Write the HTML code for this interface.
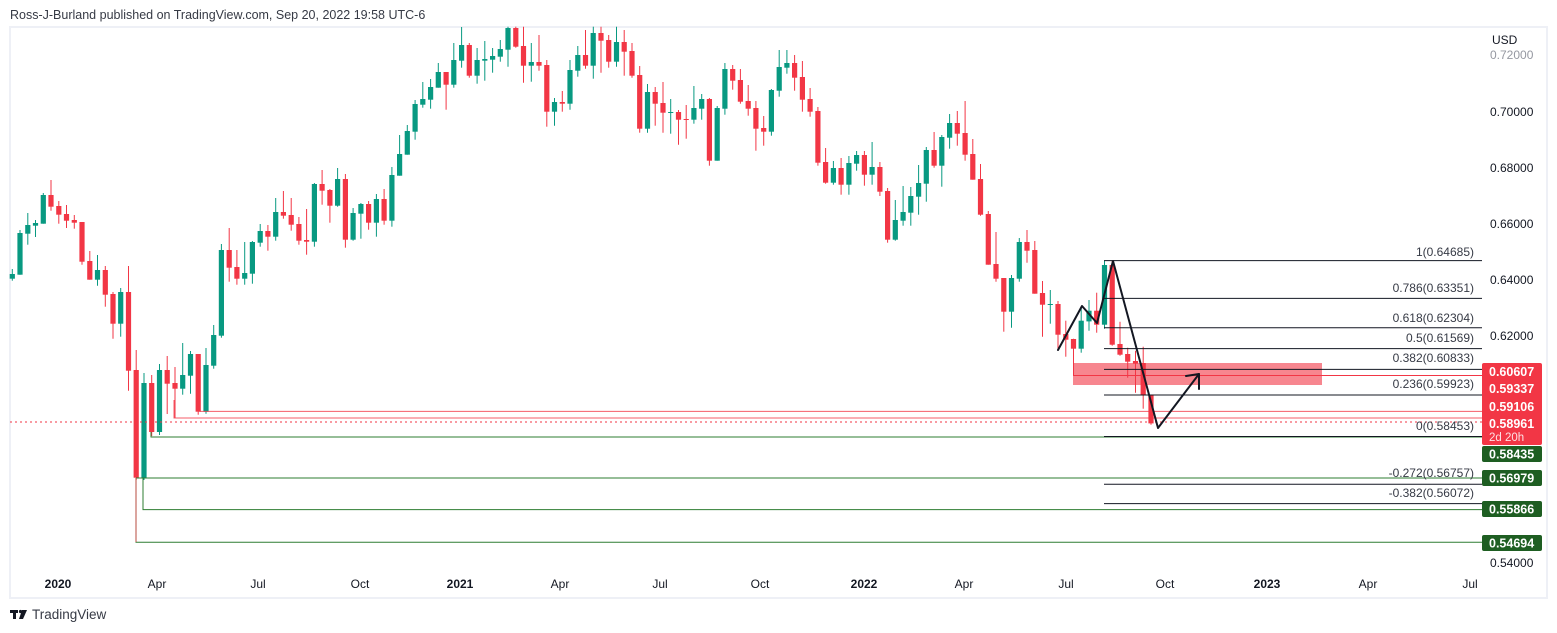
<!DOCTYPE html>
<html><head><meta charset="utf-8">
<style>
html,body{margin:0;padding:0;background:#fff;}
body{width:1557px;height:633px;overflow:hidden;position:relative;font-family:"Liberation Sans","DejaVu Sans",sans-serif;}
svg{position:absolute;left:0;top:0;}
</style></head>
<body>
<svg id="c" width="1557" height="633" viewBox="0 0 1557 633" xmlns="http://www.w3.org/2000/svg" font-family="Liberation Sans, DejaVu Sans, sans-serif">
<text x="10" y="19" font-size="12.5" fill="#363a45">Ross-J-Burland published on TradingView.com, Sep 20, 2022 19:58 UTC-6</text>
<rect x="10" y="27" width="1537" height="571" fill="none" stroke="#eef0f6" stroke-width="2"/>
<g id="cand"></g>
<!-- support/resistance lines -->
<g fill="none" stroke-width="1">
<polyline points="200,404 200,411.4 1482,411.4" stroke="#f23645" stroke-opacity="0.8"/>
<polyline points="174,400 174,418 1482,418" stroke="#f23645" stroke-opacity="0.8"/>
<line x1="10" y1="422" x2="1482" y2="422" stroke="#f23645" stroke-dasharray="2,3"/>
<polyline points="151,432 151,437 1482,437" stroke="#2e7d32"/>
<polyline points="136,478 1482,478" stroke="#2e7d32"/>
<polyline points="143,478 143,509.6 1482,509.6" stroke="#2e7d32"/>
<polyline points="136,478 136,542.3 1482,542.3" stroke="#2e7d32"/>
<line x1="136" y1="478" x2="136" y2="542" stroke="#f23645" stroke-opacity="0.7"/>
</g>
<!-- rectangle -->
<rect x="1073" y="363" width="249" height="22" fill="#f23645" fill-opacity="0.6"/>
<line x1="1073" y1="375.5" x2="1482" y2="375.5" stroke="#f23645" stroke-width="1"/>
<!-- fib -->
<g stroke="#131722" stroke-width="1">
<line x1="1104" y1="260.6" x2="1482" y2="260.6"/>
<line x1="1104" y1="298.4" x2="1482" y2="298.4"/>
<line x1="1104" y1="327.8" x2="1482" y2="327.8"/>
<line x1="1104" y1="348.6" x2="1482" y2="348.6"/>
<line x1="1104" y1="369.4" x2="1482" y2="369.4"/>
<line x1="1104" y1="395" x2="1482" y2="395"/>
<line x1="1104" y1="436.5" x2="1482" y2="436.5"/>
<line x1="1104" y1="484.3" x2="1482" y2="484.3"/>
<line x1="1104" y1="503.6" x2="1482" y2="503.6"/>
</g>
<g font-size="12" fill="#363a45" text-anchor="end">
<text x="1474" y="256">1(0.64685)</text>
<text x="1474" y="292">0.786(0.63351)</text>
<text x="1474" y="322">0.618(0.62304)</text>
<text x="1474" y="342">0.5(0.61569)</text>
<text x="1474" y="362">0.382(0.60833)</text>
<text x="1474" y="388">0.236(0.59923)</text>
<text x="1474" y="430">0(0.58453)</text>
<text x="1474" y="477">-0.272(0.56757)</text>
<text x="1474" y="497">-0.382(0.56072)</text>
</g>
<!-- zigzag -->
<g stroke="#131722" stroke-width="2" fill="none" stroke-linejoin="round" stroke-linecap="round">
<polyline points="1058,350 1082,306 1097,323 1113,261 1158,428 1199,374"/>
<polyline points="1186,376 1199,374 1199,389"/>
</g>
<!-- price axis -->
<g font-size="12" fill="#131722">
<text x="1492" y="44">USD</text>
<text x="1490" y="59" fill="#9598a1">0.72000</text>
<text x="1490" y="116">0.70000</text>
<text x="1490" y="172">0.68000</text>
<text x="1490" y="228">0.66000</text>
<text x="1490" y="284">0.64000</text>
<text x="1490" y="340">0.62000</text>
<text x="1490" y="567">0.54000</text>
</g>
<g font-size="12.5" font-weight="bold" fill="#fff">
<rect x="1482" y="363" width="60" height="82" rx="2" fill="#f23645"/>
<text x="1489" y="376">0.60607</text>
<text x="1489" y="393">0.59337</text>
<text x="1489" y="411">0.59106</text>
<text x="1489" y="428">0.58961</text>
<text x="1489" y="441" font-weight="normal" font-size="11.5" fill="#fde0e3">2d 20h</text>
<rect x="1482" y="446" width="60" height="16" rx="2" fill="#1e5e22"/>
<text x="1489" y="458.5">0.58435</text>
<rect x="1482" y="470" width="60" height="16" rx="2" fill="#1e5e22"/>
<text x="1489" y="482.5">0.56979</text>
<rect x="1482" y="501" width="60" height="16" rx="2" fill="#1e5e22"/>
<text x="1489" y="513.5">0.55866</text>
<rect x="1482" y="535" width="60" height="16" rx="2" fill="#1e5e22"/>
<text x="1489" y="547.5">0.54694</text>
</g>
<!-- time axis -->
<g font-size="12" fill="#131722" text-anchor="middle">
<text x="58" y="588" font-weight="bold">2020</text>
<text x="157" y="588">Apr</text>
<text x="258" y="588">Jul</text>
<text x="360" y="588">Oct</text>
<text x="460" y="588" font-weight="bold">2021</text>
<text x="560" y="588">Apr</text>
<text x="660" y="588">Jul</text>
<text x="760" y="588">Oct</text>
<text x="864" y="588" font-weight="bold">2022</text>
<text x="964" y="588">Apr</text>
<text x="1066" y="588">Jul</text>
<text x="1165" y="588">Oct</text>
<text x="1267" y="588" font-weight="bold">2023</text>
<text x="1368" y="588">Apr</text>
<text x="1470" y="588">Jul</text>
</g>
<!-- logo -->
<g fill="#131722">
<rect x="10" y="610" width="8" height="3"/>
<rect x="13" y="610" width="3" height="9"/>
<circle cx="20.5" cy="611.5" r="1.6"/>
<polygon points="22,610 27,610 23,619 19,619"/>
<text x="32" y="619" font-size="13.5" fill="#363a45">TradingView</text>
</g>
</svg>
<script>
var A=[
[762,776,747,782,'g'],[639,764,630,764,'g'],[615,641,579,674,'g'],[609,617,600,651,'g'],[525,611,519,611,'g'],
[525,560,480,572,'r'],[558,584,543,611,'r'],[582,602,555,624,'r'],[600,608,585,626,'r'],[606,725,606,734,'r'],
[723,779,693,779,'r'],[750,779,705,797,'g'],[750,824,738,860,'r'],[822,911,816,956,'r'],[816,911,804,950,'g'],
[816,1052,738,1112,'r'],[1050,1373,990,1380,'r'],[1089,1373,1059,1380,'g'],[1089,1236,1065,1248,'r'],[1050,1236,1032,1245,'g'],
[1050,1091,1008,1182,'r'],[1089,1106,1041,1194,'r'],[1065,1106,969,1124,'g'],[1002,1067,993,1121,'g'],[1002,1175,1002,1184,'r'],
[1035,1175,984,1181,'g'],[945,1037,915,1046,'g'],[690,947,672,953,'g'],[690,743,624,785,'r'],[741,776,690,794,'r'],
[759,776,666,794,'g'],[666,761,663,791,'g'],[633,668,612,680,'g'],[633,650,615,692,'r'],[576,650,534,662,'g'],
[576,587,513,596,'r'],[585,614,534,632,'r'],[612,662,591,674,'r'],[660,665,567,704,'r'],[492,665,489,680,'g'],
[492,512,450,554,'r'],[510,557,507,608,'r'],[477,557,444,560,'g'],[477,659,462,683,'r'],[579,659,564,662,'g'],
[552,581,549,656,'g'],[552,608,543,629,'r'],[537,608,522,650,'g'],[537,602,507,614,'r'],[465,602,441,620,'g'],
[402,467,345,467,'g'],[333,404,315,404,'g'],[252,335,240,359,'g'],[237,254,186,263,'g'],[201,239,177,266,'g'],
[156,203,129,203,'g'],[156,194,156,269,'r'],[120,194,69,203,'g'],[75,122,21,143,'g'],[75,167,69,173,'r'],
[120,167,84,191,'g'],[117,122,63,182,'g'],[108,119,84,158,'g'],[87,110,60,125,'g'],[24,89,20,140,'g'],
[24,80,20,83,'r'],[78,137,20,188,'r'],[126,137,69,185,'g'],[126,137,45,152,'r'],[135,275,120,320,'r'],
[246,275,234,317,'g'],[246,251,213,275,'r'],[150,251,120,269,'g'],[105,152,78,170,'g'],[105,137,30,146,'r'],
[39,137,20,176,'g'],[39,62,20,158,'r'],[60,125,45,143,'r'],[66,125,20,140,'g'],[66,95,30,167,'r'],
[93,167,69,173,'r'],[165,326,138,338,'r'],[216,326,192,338,'g'],[216,251,201,317,'r'],[249,278,186,338,'r'],
[276,278,237,341,'g'],[276,299,270,374,'r'],[297,299,255,356,'r'],[264,299,198,311,'g'],[237,266,222,299,'g'],
[237,422,234,437,'r'],[264,422,258,422,'g'],[147,266,129,284,'g'],[147,182,135,209,'r'],[180,245,147,251,'r'],
[243,266,195,287,'r'],[264,326,243,392,'r'],[324,335,288,377,'r'],[210,335,207,347,'g'],[141,212,90,230,'g'],
[129,143,90,161,'g'],[129,173,105,212,'r'],[171,239,123,275,'r'],[237,275,204,290,'r'],[273,428,261,437,'r'],
[426,488,384,491,'r'],[444,488,423,494,'g'],[444,494,414,524,'r'],[429,494,408,524,'g'],[405,431,393,452,'g'],
[405,464,393,497,'r'],[441,464,366,494,'g']];
var C=[
[231,305,216,318,'r'],[303,449,294,458,'r'],[390,449,330,452,'g'],[366,392,288,407,'g'],[318,368,291,407,'g'],
[279,320,225,374,'g'],[180,281,171,335,'g'],[180,227,126,233,'r'],[141,227,135,290,'g'],[99,143,72,176,'g'],
[99,131,63,167,'r'],[129,194,33,212,'r'],[192,269,147,269,'r'],[267,374,222,377,'r'],[372,524,363,524,'r'],
[522,566,426,575,'r'],[564,665,564,725,'r'],[564,665,555,713,'g'],[456,566,444,575,'g'],[456,482,420,518,'r'],
[480,611,453,611,'r'],[609,644,573,740,'r'],[642,644,600,701,'g'],[642,734,633,782,'r'],[732,749,692,800,'r'],
[747,776,746,856,'r'],[692,776,653,788,'g'],[662,694,630,722,'g'],[662,704,608,728,'r'],[525,704,513,716,'g'],
[525,764,513,767,'r'],[762,794,695,797,'r'],[792,815,773,863,'r'],[813,821,782,908,'r'],[819,916,770,956,'r'],
[914,1000,914,1004,'r']];
var s='',col={g:'#089981',r:'#f23645'};
function add(d,i,off){
 var x=12.3+i*7.746, c=col[d[4]];
 var bt=off+d[0]/3, bb=off+d[1]/3, wt=off+d[2]/3, wb=off+d[3]/3;
 if(bb-bt<1){bb=bt+1;}
 s+='<line x1="'+x.toFixed(1)+'" y1="'+wt.toFixed(1)+'" x2="'+x.toFixed(1)+'" y2="'+wb.toFixed(1)+'" stroke="'+c+'" stroke-width="1"/>';
 s+='<rect x="'+(x-2.6).toFixed(1)+'" y="'+bt.toFixed(1)+'" width="5.2" height="'+(bb-bt).toFixed(1)+'" fill="'+c+'"/>';
}
for(var i=0;i<A.length;i++)add(A[i],i,20);
for(var j=0;j<C.length;j++)add(C[j],A.length+j,90);
document.getElementById('cand').innerHTML=s;
</script>
</body></html>
